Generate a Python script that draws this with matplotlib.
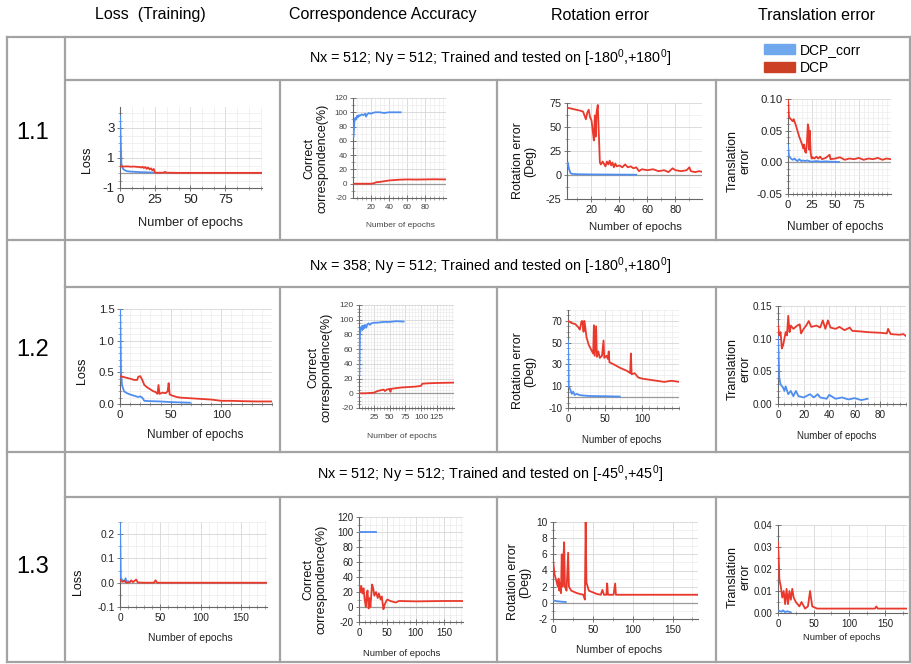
# Comparison of DCP_corr vs DCP training curves, laid out as a 3x4 table
import numpy as np
import matplotlib
matplotlib.use('Agg')
import matplotlib.pyplot as plt
from matplotlib.lines import Line2D
from matplotlib.patches import Patch
from matplotlib.ticker import AutoMinorLocator, FormatStrFormatter

plt.rcParams['font.family'] = ['Liberation Sans', 'DejaVu Sans']
plt.rcParams['axes.unicode_minus'] = False
plt.rcParams['mathtext.fontset'] = 'custom'
plt.rcParams['mathtext.rm'] = 'Liberation Sans'

W, H = 911, 664
BLUE = '#4f8ef0'
RED = '#e8392c'

col_titles = ['Loss  (Training)', 'Correspondence Accuracy', 'Rotation error', 'Translation error']
row_names = ['1.1', '1.2', '1.3']
row_titles = [r'Nx = 512; Ny = 512; Trained and tested on [-180$^{\mathrm{0}}$,+180$^{\mathrm{0}}$]',
              r'Nx = 358; Ny = 512; Trained and tested on [-180$^{\mathrm{0}}$,+180$^{\mathrm{0}}$]',
              r'Nx = 512; Ny = 512; Trained and tested on [-45$^{\mathrm{0}}$,+45$^{\mathrm{0}}$]']
series_names = ['DCP_corr', 'DCP']

# (epoch, value) pairs
# ---- row 1.1
loss11_corr = [(0, 3.8), (1, 0.6), (2, 0.3), (3, 0.2), (5, 0.12), (8, 0.09), (12, 0.07),
               (16, 0.05), (20, 0.04), (24, 0.03)]
loss11_dcp = [(0, 0.45), (2, 0.43), (5, 0.44), (8, 0.42), (10, 0.43), (12, 0.41), (14, 0.40),
              (15, 0.36), (16, 0.42), (17, 0.33), (18, 0.40), (19, 0.28), (20, 0.37), (21, 0.24),
              (22, 0.31), (23, 0.18), (24, 0.27), (25, 0.02), (28, 0.02), (31, 0.02), (32, 0.08),
              (33, 0.02), (40, 0.01), (60, 0.01), (80, 0.01), (101, 0.01)]
corr11_corr = [(1, 65), (2, 86), (3, 92), (4, 90), (5, 95), (6, 93), (7, 96), (8, 95), (10, 97),
               (12, 96), (14, 98), (15, 94), (16, 97), (18, 99), (20, 98), (22, 99), (25, 100),
               (30, 100), (35, 99), (40, 100), (45, 100), (50, 100), (53, 100)]
corr11_dcp = [(1, 0), (10, 0), (20, 0), (23, 0.5), (26, 2), (30, 2.5), (35, 3.5), (40, 4.5),
              (45, 5), (50, 5.5), (60, 6), (70, 5.8), (80, 6), (90, 6.2), (103, 6)]
rot11_corr = [(3, 13), (4, 6), (5, 2), (6, 1.2), (8, 1), (10, 0.8), (20, 0.6), (30, 0.5),
              (40, 0.4), (52, 0.3)]
rot11_dcp = [(3, 70), (6, 69), (9, 68), (12, 67), (14, 66), (15, 62), (16, 58), (17, 65), (18, 68),
             (19, 60), (20, 57), (21, 45), (21.7, 36), (22.4, 62), (23, 40), (23.6, 65), (24.5, 73),
             (25.2, 45), (26, 13), (26.7, 11), (28, 14), (30, 9), (31, 14), (32, 11), (33, 15),
             (34, 10), (35, 13), (36, 8), (37, 12), (38, 9), (40, 10), (42, 8), (44, 11), (46, 8),
             (48, 9), (50, 7), (52, 8), (54, 4), (56, 6), (60, 5), (64, 6), (68, 4), (72, 5),
             (75, 3), (78, 7), (80, 5), (84, 4), (88, 5), (90, 8), (91, 4), (94, 3), (97, 4), (100, 3)]
trans11_corr = [(0, 0.027), (1, 0.01), (2, 0.008), (3, 0.006), (5, 0.004), (7, 0.006), (8, 0.004),
                (10, 0.002), (12, 0.005), (14, 0.002), (16, 0.003), (18, 0.002), (20, 0.003),
                (25, 0.001), (30, 0.002), (35, 0.001), (40, 0.0015), (45, 0.001), (50, 0.0008),
                (54, 0.0005)]
trans11_dcp = [(0, 0.10), (1, 0.072), (3, 0.068), (5, 0.065), (6, 0.068), (8, 0.06), (10, 0.05),
               (11, 0.045), (12, 0.04), (14, 0.032), (15, 0.028), (16, 0.022), (17, 0.028),
               (18, 0.017), (19, 0.015), (20, 0.03), (21, 0.06), (21.7, 0.055), (22.3, 0.02),
               (23, 0.05), (24, 0.015), (25, 0.006), (26, 0.008), (28, 0.006), (30, 0.009),
               (32, 0.006), (34, 0.009), (36, 0.005), (40, 0.007), (44, 0.012), (45, 0.005),
               (50, 0.006), (55, 0.008), (60, 0.004), (65, 0.006), (70, 0.005), (75, 0.007),
               (80, 0.004), (85, 0.006), (90, 0.005), (95, 0.007), (100, 0.004), (104, 0.006),
               (109, 0.005)]
# ---- row 1.2
loss12_corr = [(0, 1.6), (1, 0.5), (2, 0.3), (4, 0.2), (7, 0.17), (10, 0.15), (14, 0.13),
               (18, 0.11), (20, 0.12), (22, 0.1), (24, 0.05), (30, 0.045), (40, 0.04), (50, 0.03),
               (60, 0.025), (69, 0.02)]
loss12_dcp = [(0, 0.44), (5, 0.42), (10, 0.40), (14, 0.38), (17, 0.38), (18, 0.43), (20, 0.44),
              (22, 0.38), (24, 0.30), (27, 0.26), (30, 0.23), (33, 0.20), (35, 0.19), (37, 0.16),
              (38, 0.30), (39, 0.16), (42, 0.18), (45, 0.17), (47, 0.20), (48, 0.33), (49, 0.15),
              (52, 0.13), (56, 0.11), (60, 0.10), (70, 0.09), (80, 0.08), (90, 0.07), (100, 0.05),
              (110, 0.05), (120, 0.045), (135, 0.04), (150, 0.04)]
corr12_corr = [(1, 25), (2, 78), (3, 88), (4, 90), (5, 91), (6, 86), (7, 92), (8, 88), (10, 93),
               (12, 89), (14, 94), (16, 95), (18, 93), (20, 95), (25, 96), (30, 96), (40, 97),
               (50, 97), (60, 98), (72, 97.5)]
corr12_dcp = [(1, 0), (10, 0), (20, 0.5), (25, 1), (30, 3), (35, 4), (40, 5), (42, 3), (45, 5),
              (50, 6), (51, 2), (52, 6), (60, 7), (70, 8), (80, 8.5), (90, 9), (100, 10),
              (102, 13), (110, 13.5), (125, 14), (153, 14.5)]
rot12_corr = [(0, 52), (1, 10), (3, 7), (5, 3), (7, 5), (9, 2), (12, 3), (15, 2), (20, 1.5),
              (30, 1), (50, 0.8), (70, 0.5)]
rot12_dcp = [(0, 70), (5, 68), (10, 67), (14, 64), (16, 62), (18, 69), (19, 70), (20, 66), (21, 60),
             (22, 70), (23, 66), (25, 55), (28, 48), (31, 44), (34, 40), (35, 66), (36, 38), (38, 65),
             (39, 37), (41, 42), (43, 36), (46, 38), (48, 52), (49, 36), (52, 38), (54, 35), (55, 42),
             (56, 32), (62, 30), (70, 27), (80, 24), (84, 22), (85, 40), (86, 21), (90, 22),
             (95, 18), (100, 17), (110, 16), (120, 15), (130, 14), (140, 15), (150, 14)]
trans12_corr = [(0, 0.105), (1, 0.04), (2, 0.03), (4, 0.025), (5, 0.02), (6, 0.027), (8, 0.015),
                (10, 0.02), (12, 0.012), (14, 0.02), (16, 0.012), (20, 0.01), (25, 0.015),
                (28, 0.01), (31, 0.015), (33, 0.01), (38, 0.008), (40, 0.014), (45, 0.008),
                (50, 0.01), (55, 0.007), (60, 0.009), (65, 0.006), (70, 0.008)]
trans12_dcp = [(0, 0.12), (1, 0.105), (2, 0.11), (3, 0.085), (4, 0.09), (5, 0.10), (6, 0.11),
               (7, 0.105), (8, 0.135), (9, 0.11), (10, 0.12), (12, 0.115), (15, 0.12), (17, 0.122),
               (18, 0.108), (20, 0.115), (22, 0.12), (24, 0.127), (26, 0.118), (30, 0.12),
               (33, 0.117), (35, 0.128), (37, 0.115), (39, 0.128), (41, 0.117), (45, 0.115),
               (48, 0.118), (52, 0.113), (56, 0.117), (58, 0.112), (65, 0.111), (70, 0.11),
               (80, 0.109), (85, 0.108), (86, 0.115), (88, 0.107), (95, 0.106), (98, 0.107),
               (100, 0.104)]
# ---- row 1.3
loss13_corr = [(0, 0.25), (1, 0.02), (3, 0.01), (5, 0.005), (7, 0.018), (8, 0.004), (10, 0.006),
               (12, 0.003)]
loss13_dcp = [(0, 0.01), (3, 0.004), (5, 0.008), (8, 0.0), (12, 0.002), (14, 0.01), (16, 0.002),
              (20, 0.013), (22, 0.001), (30, 0.0), (42, 0.0), (44, 0.01), (46, 0.0), (60, 0.0),
              (100, 0.0), (182, 0.0)]
corr13_corr = [(1, 100), (30, 100)]
corr13_dcp = [(0, 30), (2, 20), (4, 28), (6, 18), (8, 25), (10, 10), (12, 0), (14, 18), (15, 22),
              (17, -2), (19, 12), (20, 0), (23, 30), (25, 25), (27, 15), (30, 20), (33, 12),
              (35, 18), (38, 10), (40, 14), (43, -3), (45, 3), (48, 8), (50, 10), (55, 8), (60, 7),
              (65, 6), (70, 8), (100, 7.5), (150, 8), (183, 8)]
rot13_corr = [(0, 0.3), (5, 0.2), (10, 0.15), (16, 0.1)]
rot13_dcp = [(0, 5.3), (2, 3.5), (4, 2.8), (6, 2.0), (7, 3.0), (8, 1.5), (9, 2.5), (10, 1.2),
             (11, 6.0), (12, 2.0), (13, 5.5), (14, 7.5), (15, 2.0), (17, 1.5), (19, 6.2), (20, 2.0),
             (23, 1.5), (30, 1.2), (38, 1.0), (40, 0.4), (41, 10.0), (42, 2.5), (45, 1.5), (55, 1.1),
             (60, 1.0), (62, 1.6), (64, 1.0), (67, 1.0), (68, 2.4), (69, 1.0), (76, 1.0), (78, 2.4),
             (79, 1.0), (100, 1.0), (130, 1.0), (182, 1.0)]
trans13_corr = [(1, 0.001), (5, 0.0006), (7, 0.0012), (10, 0.0004), (13, 0.0008), (18, 0.0003)]
trans13_dcp = [(0, 0.032), (1, 0.025), (2, 0.015), (4, 0.012), (6, 0.007), (8, 0.010), (10, 0.004),
               (12, 0.011), (14, 0.004), (16, 0.010), (18, 0.006), (20, 0.011), (22, 0.007),
               (25, 0.005), (30, 0.003), (33, 0.005), (38, 0.002), (42, 0.003), (45, 0.010),
               (48, 0.003), (55, 0.002), (100, 0.002), (136, 0.002), (138, 0.003), (140, 0.002),
               (181, 0.002)]


fig = plt.figure(figsize=(W / 100, H / 100), dpi=100)


def box(x0, y0, x1, y1):
    return [x0 / W, 1 - y1 / H, (x1 - x0) / W, (y1 - y0) / H]


def hline(y, x0, x1):
    fig.add_artist(Line2D([x0 / W, x1 / W], [1 - y / H] * 2, color='#a3a3a3', lw=1.6))


def vline(x, y0, y1):
    fig.add_artist(Line2D([x / W] * 2, [1 - y0 / H, 1 - y1 / H], color='#a3a3a3', lw=1.6))


# rect/label positions are in pixels of the page
def panel(rect, corr, dcp, xlim, ylim, xticks, yticks, xminor, yminor, ylabel,
          ylab_xy, xlab_xy, tick_fs, xlab_fs, ylab_fs=9, yfmt=None, tcol='#222'):
    x0, y0, x1, y1 = rect
    ax = fig.add_axes(box(*rect))
    ax.plot(*zip(*corr), color=BLUE, lw=1.3, zorder=3)
    ax.plot(*zip(*dcp), color=RED, lw=1.3, zorder=4)
    ax.set_xlim(*xlim)
    ax.set_ylim(*ylim)
    ax.set_xticks(xticks)
    ax.set_yticks(yticks)
    ax.xaxis.set_minor_locator(AutoMinorLocator(xminor))
    ax.yaxis.set_minor_locator(AutoMinorLocator(yminor))
    if yfmt:
        ax.yaxis.set_major_formatter(FormatStrFormatter(yfmt))
    ax.grid(which='major', color='#d6d6d6', lw=0.6)
    ax.grid(which='minor', color='#ececec', lw=0.5)
    ax.set_axisbelow(True)
    if ylim[0] < 0 < ylim[1]:
        ax.axhline(0, color='#9a9a9a', lw=0.9, zorder=2)
    for s in ['top', 'right']:
        ax.spines[s].set_visible(False)
    for s in ['left', 'bottom']:
        ax.spines[s].set_color('#666666')
        ax.spines[s].set_linewidth(0.8)
    ax.tick_params(which='major', labelsize=tick_fs, labelcolor=tcol, color='#666666',
                   direction='inout', length=4, width=0.6, pad=2)
    ax.tick_params(which='minor', color='#888888', direction='inout', length=2.5, width=0.5)
    ax.set_xlabel('Number of epochs', fontsize=xlab_fs, color=tcol, va='center')
    ax.xaxis.set_label_coords((xlab_xy[0] - x0) / (x1 - x0), (y1 - xlab_xy[1]) / (y1 - y0))
    ax.set_ylabel(ylabel, fontsize=ylab_fs, color='#111', va='center', linespacing=1.05)
    ax.yaxis.set_label_coords((ylab_xy[0] - x0) / (x1 - x0), (y1 - ylab_xy[1]) / (y1 - y0))
    return ax


# table frame
for y in [37, 240, 452, 662]:
    hline(y, 7, 911)
for y in [80, 287, 497]:
    hline(y, 65, 911)
vline(7, 37, 662)
vline(65, 37, 662)
vline(910, 37, 662)
for ya, yb in [(80, 240), (287, 452), (497, 662)]:
    for x in [280, 497, 716]:
        vline(x, ya, yb)

# column headers
for x, t in zip([150, 383, 600, 817], col_titles):
    fig.text(x / W, 1 - 15 / H, t, ha='center', va='center', fontsize=11.5)

# row labels and titles
for y, t in zip([133, 350, 567], row_names):
    fig.text(33 / W, 1 - y / H, t, ha='center', va='center', fontsize=17)
for y, t in zip([58, 266, 474], row_titles):
    fig.text(490 / W, 1 - y / H, t, ha='center', va='center', fontsize=10.4)

handles = [Patch(color='#6fa8ec', label=series_names[0]),
           Patch(color='#cc4125', label=series_names[1])]
fig.legend(handles=handles, loc='upper left', bbox_to_anchor=(764 / W, 1 - 43 / H),
           frameon=False, fontsize=10, handlelength=2.2, handleheight=0.7,
           handletextpad=0.4, labelspacing=0.3, borderpad=0, borderaxespad=0)

corr_lab = 'Correct\ncorrespondence(%)'
rot_lab = 'Rotation error\n(Deg)'
trans_lab = 'Translation\nerror'

# row 1.1
panel((120, 107, 262, 188), loss11_corr, loss11_dcp, (0, 101), (-1, 4.4), [0, 25, 50, 75],
      [-1, 1, 3], 3, 4, 'Loss', (87, 160), (190, 223), 9.5, 9.3)
panel((353, 98, 446, 198), corr11_corr, corr11_dcp, (0.5, 103), (-20, 120), [20, 40, 60, 80],
      np.arange(-20, 121, 20), 4, 2, corr_lab, (316, 158), (400, 226), 5.8, 6, tcol='#444')
panel((567, 103, 702, 199), rot11_corr, rot11_dcp, (2.5, 99), (-25, 75), [20, 40, 60, 80],
      [-25, 0, 25, 50, 75], 2, 2, rot_lab, (524, 161), (635, 227), 7.8, 8.2)
panel((788, 99, 891, 194), trans11_corr, trans11_dcp, (0, 109), (-0.05, 0.10), [0, 25, 50, 75],
      [-0.05, 0, 0.05, 0.10], 5, 5, trans_lab, (739, 161), (835, 227), 8.2, 8.5, yfmt='%.2f')
# row 1.2
panel((120, 309, 272, 404), loss12_corr, loss12_dcp, (0, 150), (0, 1.5), [0, 50, 100],
      [0, 0.5, 1.0, 1.5], 5, 5, 'Loss', (82, 371), (195, 435), 8.2, 8.5, yfmt='%.1f')
panel((359, 305, 454, 408), corr12_corr, corr12_dcp, (0.5, 153), (-20, 120),
      [25, 50, 75, 100, 125], np.arange(-20, 121, 20), 5, 4, corr_lab, (320, 367), (402, 437),
      6, 6.1, tcol='#444')
panel((568, 310, 679, 408), rot12_corr, rot12_dcp, (0, 150), (-10, 80), [0, 50, 100],
      [-10, 10, 30, 50, 70], 5, 4, rot_lab, (524, 371), (622, 440), 7, 7)
panel((778, 306, 906, 404), trans12_corr, trans12_dcp, (0, 100), (0, 0.15), [0, 20, 40, 60, 80],
      [0, 0.05, 0.10, 0.15], 4, 5, trans_lab, (739, 369), (837, 436), 7.2, 7, yfmt='%.2f')
# row 1.3
panel((120, 522, 267, 607), loss13_corr, loss13_dcp, (0, 182), (-0.1, 0.25), [0, 50, 100, 150],
      [-0.1, 0, 0.1, 0.2], 5, 2, 'Loss', (78, 582), (190, 638), 7.3, 7.5, yfmt='%.1f')
panel((359, 517, 463, 622), corr13_corr, corr13_dcp, (0, 183), (-20, 120), [0, 50, 100, 150],
      np.arange(-20, 121, 20), 5, 2, corr_lab, (315, 579), (402, 653), 7, 6.8)
panel((553, 522, 698, 619), rot13_corr, rot13_dcp, (0, 182), (-2, 10), [0, 50, 100, 150],
      np.arange(-2, 11, 2), 2, 2, rot_lab, (519, 582), (619, 650), 7.3, 7.6)
panel((778, 525, 907, 613), trans13_corr, trans13_dcp, (0, 181), (0, 0.04), [0, 50, 100, 150],
      [0, 0.01, 0.02, 0.03, 0.04], 2, 2, trans_lab, (739, 577), (842, 638), 7, 6.8, yfmt='%.2f')

fig.savefig('out.png', dpi=100)
